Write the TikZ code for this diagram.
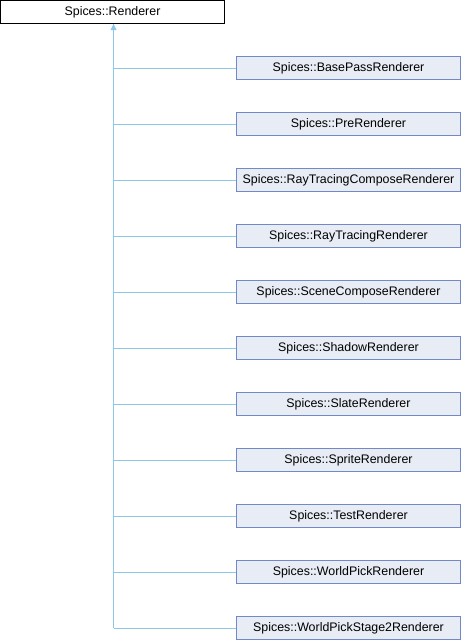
\documentclass[tikz,border=0pt]{standalone}
\usepackage{fontspec}
\setmainfont{Liberation Sans}
\usetikzlibrary{arrows.meta}
\definecolor{edgec}{HTML}{8CC8E6}
\definecolor{boxborder}{HTML}{7089C8}
\definecolor{boxfill}{HTML}{E8ECF5}
\begin{document}
\begin{tikzpicture}[x=1pt,y=-1pt,
  rootbox/.style={draw=black,fill=white,line width=1pt,minimum width=224pt,minimum height=23pt,inner sep=0pt,font=\fontsize{12.4}{14}\selectfont},
  childbox/.style={draw=boxborder,fill=boxfill,line width=1pt,minimum width=224pt,minimum height=23pt,inner sep=0pt,font=\fontsize{12.4}{14}\selectfont},
  edge/.style={draw=edgec,line width=1pt}]
\useasboundingbox (0,0) rectangle (462,640);
\node[rootbox] (root) at (112.5,12) {Spices::Renderer};
\foreach \n/\t [count=\i from 0] in {
 c0/BasePassRenderer, c1/PreRenderer, c2/RayTracingComposeRenderer,
 c3/RayTracingRenderer, c4/SceneComposeRenderer, c5/ShadowRenderer,
 c6/SlateRenderer, c7/SpriteRenderer, c8/TestRenderer,
 c9/WorldPickRenderer, c10/WorldPickStage2Renderer} {
  \node[childbox] (\n) at (348.5,{68+56*\i}) {Spices::\t};
  \coordinate (j\n) at (113.5,{68+56*\i});
  \draw[edge] (j\n) -- (\n.west);
}
\coordinate (top) at (113.5,23.5);
\draw[edge] (jc10) -- (top);
\fill[edgec] (113.5,24) -- (110.5,30) -- (116.5,30) -- cycle;
\end{tikzpicture}
\end{document}
